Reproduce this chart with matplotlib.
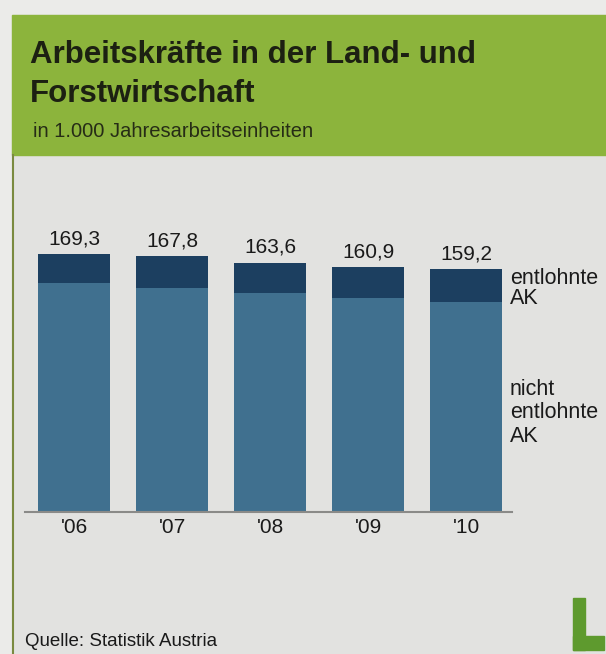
import matplotlib
matplotlib.use("Agg")
import matplotlib.pyplot as plt
from matplotlib.patches import Rectangle

plt.rcParams['font.family'] = ['Liberation Sans', 'DejaVu Sans']

years = ["'06", "'07", "'08", "'09", "'10"]
nicht_entlohnt = [150.3, 146.8, 144.0, 140.4, 137.7]
entlohnt = [19.0, 21.0, 19.6, 20.5, 21.5]
totals = ["169,3", "167,8", "163,6", "160,9", "159,2"]

W, H = 606, 654
fig = plt.figure(figsize=(W / 100, H / 100), dpi=100)
fig.patch.set_facecolor('#ebebe9')

def px(x, y, w, h):
    return [x / W, 1 - (y + h) / H, w / W, h / H]

def ftext(x, y, s, **kw):
    fig.text(x / W, 1 - y / H, s, va='baseline', ha='left', **kw)

# panel background
bg = fig.add_axes([0, 0, 1, 1]); bg.set_axis_off()
bg.set_xlim(0, W); bg.set_ylim(H, 0)
bg.add_patch(Rectangle((12, 15), W - 12, H - 15, color='#e2e2e0', zorder=0))
bg.add_patch(Rectangle((12, 15), W - 12, 140, color='#8cb43c', zorder=1))
bg.plot([12.5, 12.5], [155, H], color='#7a8a40', lw=1.5, zorder=2)
# logo "L"
bg.add_patch(Rectangle((573, 598), 12, 52, color='#5e9a2e', zorder=2))
bg.add_patch(Rectangle((573, 636), 31, 14, color='#5e9a2e', zorder=2))

ftext(30, 63, "Arbeitskräfte in der Land- und", fontsize=22.5,
      fontweight='bold', color='#1c2012')
ftext(30, 102, "Forstwirtschaft", fontsize=22.5,
      fontweight='bold', color='#1c2012')
ftext(33, 137, "in 1.000 Jahresarbeitseinheiten", fontsize=14.5, color='#262c16')

ax = fig.add_axes(px(25, 200, 487, 312))
ax.set_facecolor('none')
x = list(range(len(years)))
ax.bar(x, nicht_entlohnt, width=0.735, color='#40708f', zorder=2)
ax.bar(x, entlohnt, bottom=nicht_entlohnt, width=0.735, color='#1c3f60', zorder=2)
for i, t in enumerate(totals):
    tot = nicht_entlohnt[i] + entlohnt[i]
    ax.annotate(t, (i, tot), xytext=(0, 7), textcoords='offset points',
                ha='center', va='baseline', fontsize=15, color='#1a1a1a')
ax.set_xlim(-0.5, 4.469)
ax.set_ylim(0, 204.7)
for s in ['top', 'right', 'left']:
    ax.spines[s].set_visible(False)
ax.spines['bottom'].set_color('#8a8a88')
ax.spines['bottom'].set_linewidth(1.5)
ax.set_yticks([])
ax.set_xticks(x)
ax.set_xticklabels(years, fontsize=15, color='#1a1a1a')
ax.tick_params(axis='x', length=0, pad=4.5)

lab_kw = dict(fontsize=15.5, color='#1a1a1a')
ftext(510, 284, "entlohnte", **lab_kw)
ftext(510, 304, "AK", **lab_kw)
ftext(510, 395, "nicht", **lab_kw)
ftext(510, 418, "entlohnte", **lab_kw)
ftext(510, 442, "AK", **lab_kw)

ftext(25, 646, "Quelle: Statistik Austria", fontsize=13.5, color='#1a1a1a')

fig.savefig("out.png", dpi=100, facecolor=fig.get_facecolor())
